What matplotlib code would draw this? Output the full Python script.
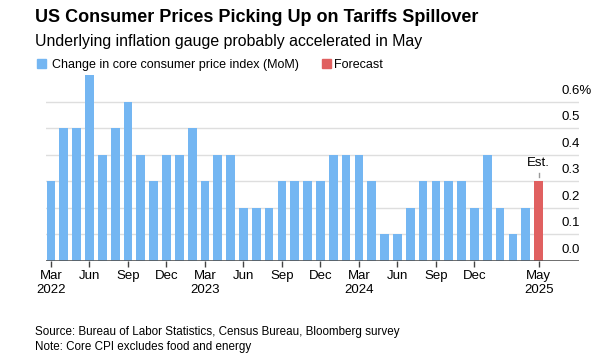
import matplotlib
matplotlib.use('Agg')
import matplotlib.pyplot as plt
import matplotlib.transforms as mtransforms
from matplotlib.patches import Rectangle
import numpy as np

plt.rcParams['font.family'] = ['Liberation Sans', 'DejaVu Sans']

# 数据：核心CPI环比（2022年3月 - 2025年5月，最后一个为预测值）
months = ['Mar 2022', 'Apr 2022', 'May 2022', 'Jun 2022', 'Jul 2022', 'Aug 2022',
          'Sep 2022', 'Oct 2022', 'Nov 2022', 'Dec 2022',
          'Jan 2023', 'Feb 2023', 'Mar 2023', 'Apr 2023', 'May 2023', 'Jun 2023',
          'Jul 2023', 'Aug 2023', 'Sep 2023', 'Oct 2023', 'Nov 2023', 'Dec 2023',
          'Jan 2024', 'Feb 2024', 'Mar 2024', 'Apr 2024', 'May 2024', 'Jun 2024',
          'Jul 2024', 'Aug 2024', 'Sep 2024', 'Oct 2024', 'Nov 2024', 'Dec 2024',
          'Jan 2025', 'Feb 2025', 'Mar 2025', 'Apr 2025', 'May 2025']
core_mom = [0.3, 0.5, 0.5, 0.7, 0.4, 0.5, 0.6, 0.4, 0.3, 0.4,
            0.4, 0.5, 0.3, 0.4, 0.4, 0.2, 0.2, 0.2, 0.3, 0.3, 0.3, 0.3,
            0.4, 0.4, 0.4, 0.3, 0.1, 0.1, 0.2, 0.3, 0.3, 0.3, 0.3, 0.2,
            0.4, 0.2, 0.1, 0.2]
forecast = 0.3

tick_months = ['Mar 2022', 'Jun 2022', 'Sep 2022', 'Dec 2022', 'Mar 2023', 'Jun 2023',
               'Sep 2023', 'Dec 2023', 'Mar 2024', 'Jun 2024', 'Sep 2024', 'Dec 2024',
               'May 2025']
tick_labels = ['Mar\n2022', 'Jun', 'Sep', 'Dec', 'Mar\n2023', 'Jun', 'Sep', 'Dec',
               'Mar\n2024', 'Jun', 'Sep', 'Dec', 'May\n2025']
y_ticks = [0.0, 0.1, 0.2, 0.3, 0.4, 0.5, 0.6]

blue = '#74b6f2'
red = '#e06060'

fig = plt.figure(figsize=(6.03, 3.62), dpi=100)
ax = fig.add_axes([46 / 603, 1 - 260.7 / 362, 533 / 603, 190.8 / 362])

x = np.arange(len(months))
ax.bar(x[:-1], core_mom, width=0.68, color=blue, zorder=3)
ax.bar(x[-1], forecast, width=0.68, color=red, zorder=3)

ax.set_xlim(-0.39, 41.15)
ax.set_ylim(0, 0.72)

# 网格线
for v in y_ticks[1:]:
    ax.axhline(v, color='#dedede', lw=1, zorder=1)
ax.axhline(0, color='#555555', lw=1.2, zorder=4)

# y轴标签（放在网格线上方、右侧，左对齐，%挂在外面）
trans = mtransforms.blended_transform_factory(ax.transAxes, ax.transData)
for v in y_ticks:
    lab = f'{v:.1f}%' if v == y_ticks[-1] else f'{v:.1f}'
    ax.annotate(lab, xy=(1.0, v), xycoords=trans, xytext=(-12.8, 5.8),
                textcoords='offset points', ha='left', va='baseline', fontsize=9.5)

# x轴刻度
tick_pos = [months.index(m) for m in tick_months]
ax.set_xticks(tick_pos)
ax.set_xticklabels(tick_labels, fontsize=9.5, linespacing=1.15)
ax.tick_params(axis='x', length=4, width=1, color='#444444', pad=3)
ax.set_yticks([])
for s in ax.spines.values():
    s.set_visible(False)

# 预测标注
ax.text(x[-1], 0.357, 'Est.', ha='center', va='baseline', fontsize=9.5)
ax.plot([x[-1], x[-1]], [0.316, 0.331], color='#999999', lw=1)

# 标题
fig.text(35 / 603, 1 - 22 / 362, 'US Consumer Prices Picking Up on Tariffs Spillover',
         fontsize=12.95, fontweight='bold', va='baseline')
fig.text(35 / 603, 1 - 46 / 362, 'Underlying inflation gauge probably accelerated in May',
         fontsize=11.4, va='baseline')

# 图例
fig.patches.append(Rectangle((36.7 / 603, 1 - 68 / 362), 9 / 603, 9 / 362,
                             transform=fig.transFigure, color=blue))
fig.text(51.7 / 603, 1 - 68 / 362, 'Change in core consumer price index (MoM)',
         fontsize=9.0, va='baseline')
fig.patches.append(Rectangle((321.7 / 603, 1 - 68 / 362), 9 / 603, 9 / 362,
                             transform=fig.transFigure, color=red))
fig.text(334 / 603, 1 - 68 / 362, 'Forecast', fontsize=9.0, va='baseline')

# 来源
fig.text(35 / 603, 1 - 335 / 362, 'Source: Bureau of Labor Statistics, Census Bureau, Bloomberg survey',
         fontsize=8.4, va='baseline')
fig.text(35 / 603, 1 - 350 / 362, 'Note: Core CPI excludes food and energy',
         fontsize=8.4, va='baseline')

fig.savefig('out.png', dpi=100)
